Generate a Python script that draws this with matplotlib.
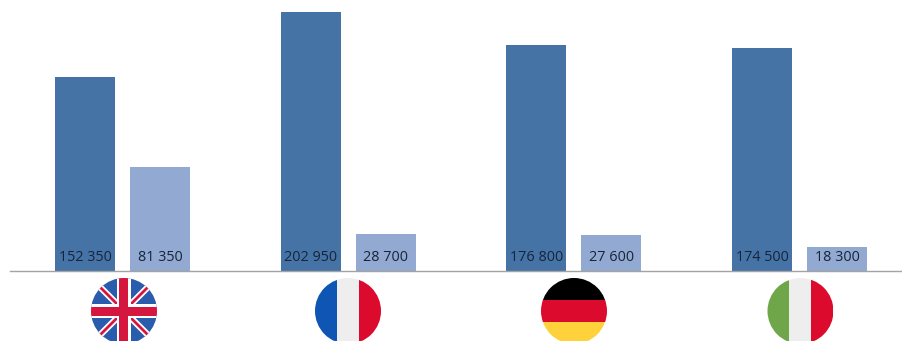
import matplotlib
matplotlib.use('Agg')
import matplotlib.pyplot as plt
from matplotlib.patches import Circle, Rectangle
import numpy as np

plt.rcParams['font.family'] = ['Open Sans', 'DejaVu Sans']

countries = ['UK', 'France', 'Germany', 'Italy']
dark_values = [152350, 202950, 176800, 174500]
light_values = [81350, 28700, 27600, 18300]
dark_labels = ['152 350', '202 950', '176 800', '174 500']
light_labels = ['81 350', '28 700', '27 600', '18 300']

DARK = '#4673a6'
LIGHT = '#92a9d1'
TEXT = '#16243a'
W, H = 903, 341
BASE = 270.5       # baseline, pixels from top
UNIT = 225.67      # pixels between groups
START = 122.5      # centre of first group in pixels

fig = plt.figure(figsize=(W / 100, H / 100), dpi=100, facecolor='white')

# bars, axes runs off the right side of the figure like the reference
left_px = 10
right_px = 914
ax = fig.add_axes([left_px / W, (H - BASE) / H, (right_px - left_px) / W, BASE / H])
ax.set_xlim((left_px - START) / UNIT, (right_px - START) / UNIT)
ax.set_ylim(0, 212500)
ax.patch.set_alpha(0)

x = np.arange(len(countries))
ax.bar(x - 0.166, dark_values, 0.266, color=DARK)
ax.bar(x + 0.166, light_values, 0.266, color=LIGHT)

for i in range(len(countries)):
    ax.annotate(dark_labels[i], (x[i] - 0.166, 0), xytext=(0, 9.2), textcoords='offset points',
                ha='center', va='center', fontsize=10.4, color=TEXT)
    ax.annotate(light_labels[i], (x[i] + 0.166, 0), xytext=(0, 9.2), textcoords='offset points',
                ha='center', va='center', fontsize=10.4, color=TEXT)

for s in ['top', 'left', 'right']:
    ax.spines[s].set_visible(False)
ax.spines['bottom'].set_color('#a3a3a3')
ax.spines['bottom'].set_linewidth(1.0)
ax.set_xticks([])
ax.set_yticks([])

# flags on an overlay in pixel coordinates
fl = fig.add_axes([0, 0, 1, 1])
fl.set_xlim(0, W)
fl.set_ylim(H, 0)
fl.axis('off')
fl.patch.set_alpha(0)

FY = 311
R = 33


def stripes(cx, colors, vertical=True):
    clip = Circle((cx, FY), R, transform=fl.transData)
    n = len(colors)
    for k, c in enumerate(colors):
        if vertical:
            p = Rectangle((cx - R + k * 2 * R / n, FY - R), 2 * R / n, 2 * R, color=c, lw=0)
        else:
            p = Rectangle((cx - R, FY - R + k * 2 * R / n), 2 * R, 2 * R / n, color=c, lw=0)
        fl.add_patch(p)
        p.set_clip_path(clip)


def union_jack(cx):
    clip = Circle((cx, FY), R, transform=fl.transData)
    items = [Rectangle((cx - R, FY - R), 2 * R, 2 * R, color='#2a5cae', lw=0)]
    for sign in [1, -1]:
        line, = fl.plot([cx - R, cx + R], [FY - sign * R, FY + sign * R], color='white', lw=4.6, solid_capstyle='butt')
        line.set_clip_path(clip)
        line, = fl.plot([cx - R, cx + R], [FY - sign * R, FY + sign * R], color='#d5173f', lw=2.0, solid_capstyle='butt')
        line.set_clip_path(clip)
    items.append(Rectangle((cx - 7, FY - R), 14, 2 * R, color='white', lw=0))
    items.append(Rectangle((cx - R, FY - 7), 2 * R, 14, color='white', lw=0))
    items.append(Rectangle((cx - 4.5, FY - R), 9, 2 * R, color='#d5173f', lw=0))
    items.append(Rectangle((cx - R, FY - 4.5), 2 * R, 9, color='#d5173f', lw=0))
    for z, p in enumerate(items):
        p.set_zorder(0.5 if z == 0 else 3)
        fl.add_patch(p)
        p.set_clip_path(clip)


union_jack(124)
stripes(348, ['#0f55b4', '#eeeeee', '#dc0a2d'])
stripes(574, ['#000000', '#dc0a2d', '#ffd23c'], vertical=False)
stripes(800.5, ['#6fa64a', '#eeeeee', '#dc0a2d'])

fig.savefig('out.png', dpi=100)
